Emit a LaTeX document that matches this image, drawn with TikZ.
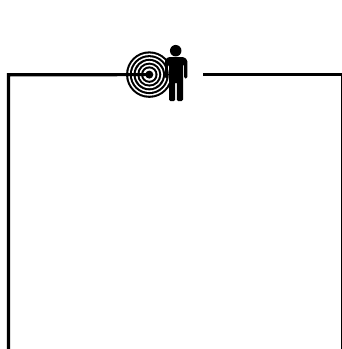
\documentclass[tikz,border=0pt]{standalone}
\usepackage{tikz}
\usetikzlibrary{positioning}

\begin{document}
\begin{tikzpicture}[
  x=1pt, y=-1pt,
  wall/.style={draw, line width=3.2pt, line join=miter},
  ringb/.style={circle, fill=black, inner sep=0pt, minimum size=#1},
  ringw/.style={circle, fill=white, inner sep=0pt, minimum size=#1},
  person/.style={fill=black, line join=round},
]
\useasboundingbox (0,0) rectangle (342,349);
% ---------------- rings -----------------
\coordinate (c) at (149.3,74.6);
\foreach \r in {46.5,39,31.5,24,16.5}{
  \node[ringb=\r pt] at (c) {};
  \pgfmathsetmacro{\w}{\r-4.2}
  \node[ringw=\w pt] at (c) {};
}
\node[ringb=8pt] (dot) at (c) {};
% ---------------- person -----------------
\node[circle, fill=black, inner sep=0pt, minimum size=11.5pt] (head) at (175.7,50.7) {};
\path[person, rounded corners=1.5pt] (168,57) -- (184,57) -- (187.4,60) -- (187.4,78.5) -- (184.2,78.5)
  -- (184.2,64) -- (183,64) -- (183,101.2) -- (176.9,101.2) -- (176.9,82) -- (175.1,82)
  -- (175.1,101.2) -- (169,101.2) -- (169,64) -- (167.8,64) -- (167.8,78.5) -- (165,78.5) -- (165,60) -- cycle;
% ---------------- walls -----------------
\coordinate (bl) at (8.5,349);
\coordinate (tl) at (8.5,74.8);
\coordinate (tr) at (341.5,74.8);
\coordinate (br) at (341.5,349);
\coordinate (gap) at (203,74.8);
\draw[wall] (bl) -- (tl) -- (dot.center);
\draw[wall] (gap) -- (tr);
\draw[line width=2pt] (tr) -- (br);
\end{tikzpicture}
\end{document}
